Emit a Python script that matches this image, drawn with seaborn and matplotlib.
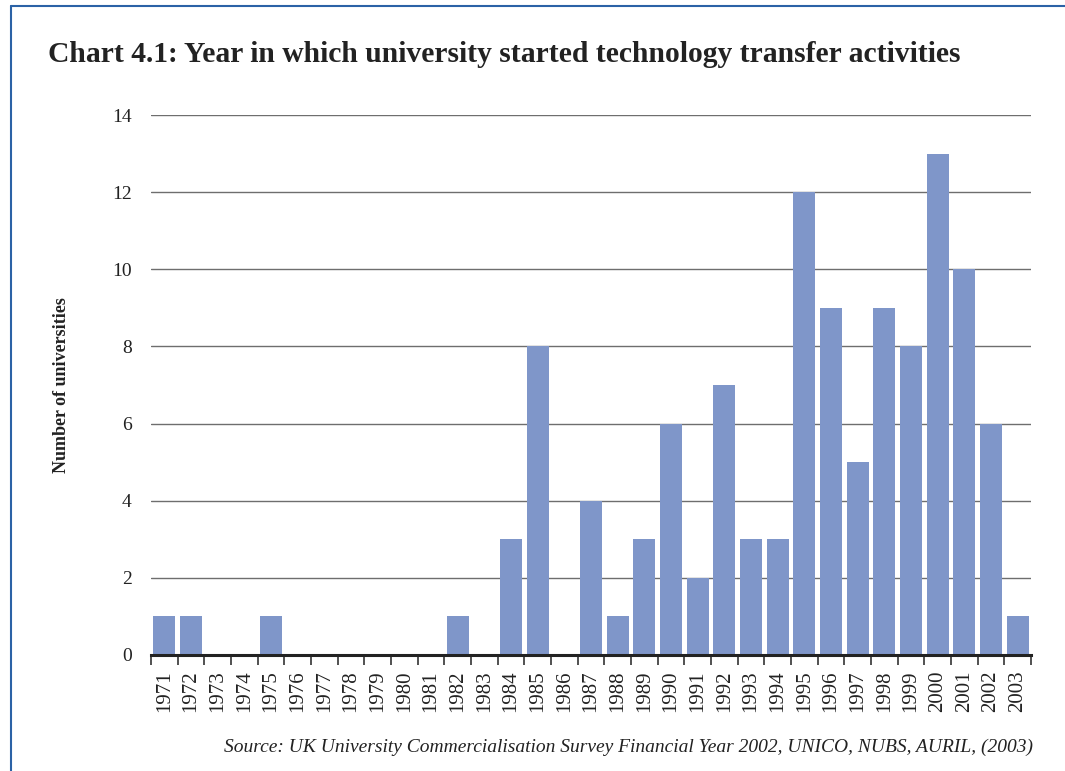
import pandas as pd
import matplotlib.pyplot as plt
import seaborn as sns
from matplotlib.lines import Line2D

years = [str(y) for y in range(1971, 2004)]
counts = [1, 1, 0, 0, 1, 0, 0, 0, 0, 0, 0, 1, 0, 3, 8, 0, 4, 1, 3, 6,
          2, 7, 3, 3, 12, 9, 5, 9, 8, 13, 10, 6, 1]
y_ticks = [0, 2, 4, 6, 8, 10, 12, 14]

df = pd.DataFrame({"year": years, "count": counts})

sns.set_style("white")
plt.rcParams["font.family"] = ["Liberation Serif", "DejaVu Serif"]

fig = plt.figure(figsize=(10.65, 7.71), dpi=100)
ax = fig.add_axes([0.1418, 0.1505, 0.8263, 0.7003])

sns.barplot(data=df, x="year", y="count", color="#7f96c9", saturation=1,
            width=0.82, linewidth=0, ax=ax, zorder=3)

ax.set_ylim(0, 14)
ax.set_xlim(-0.5, len(years) - 0.5)
ax.set_yticks(y_ticks)
ax.yaxis.grid(True, color="#6e6e6e", linewidth=1.0, zorder=0)
ax.set_axisbelow(True)
for s in ["top", "right", "left"]:
    ax.spines[s].set_visible(False)
ax.spines["bottom"].set_color("#222222")
ax.spines["bottom"].set_linewidth(2.2)
ax.spines["bottom"].set_zorder(4)

# tick marks sit between the bars
ax.set_xticks([i - 0.5 for i in range(len(years) + 1)], minor=True)
ax.tick_params(axis="x", which="minor", bottom=True, length=7, width=1.2,
               color="#333333", direction="out")
ax.tick_params(axis="x", which="major", bottom=False, length=0, pad=11,
               labelsize=15, labelrotation=90, labelcolor="#222222")
ax.tick_params(axis="y", length=0, pad=14, labelsize=14, labelcolor="#222222")

ax.set_xlabel("")
ax.set_ylabel("Number of universities", fontsize=13, fontweight="bold",
              color="#222222", labelpad=30)

fig.text(0.045, 0.92, "Chart 4.1: Year in which university started technology transfer activities",
         fontsize=21.3, fontweight="bold", color="#222222", va="baseline")
fig.text(0.97, 0.025, "Source: UK University Commercialisation Survey Financial Year 2002, UNICO, NUBS, AURIL, (2003)",
         fontsize=14, style="italic", color="#222222", ha="right", va="baseline")

# frame line along top and left
fig.add_artist(Line2D([0.0103, 1.0], [0.9922, 0.9922], color="#2b62a6", linewidth=1.5))
fig.add_artist(Line2D([0.0103, 0.0103], [0.0, 0.9922], color="#2b62a6", linewidth=1.5))

fig.savefig("out.png", dpi=100)
